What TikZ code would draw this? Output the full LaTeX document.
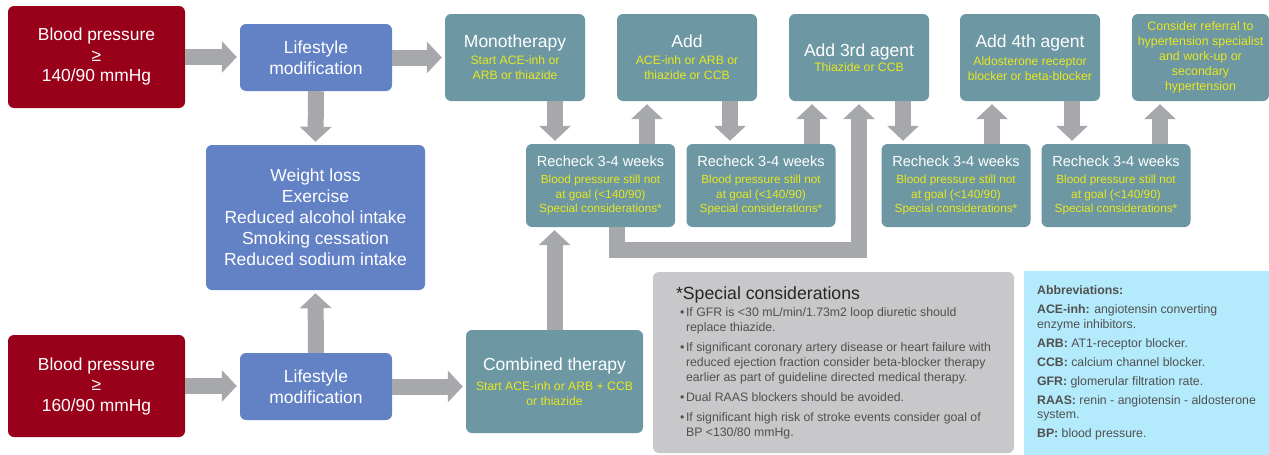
\documentclass[tikz,border=0pt]{standalone}
\usepackage{fontspec}
\setmainfont{Liberation Sans}
\usepackage{xcolor}
\usepackage{tikz}
\usetikzlibrary{positioning,arrows.meta}

\definecolor{bpred}{RGB}{153,0,25}
\definecolor{lifeblue}{RGB}{99,129,197}
\definecolor{drugteal}{RGB}{108,151,163}
\definecolor{noteyellow}{RGB}{232,232,30}
\definecolor{arrowgray}{RGB}{167,168,172}
\definecolor{notegray}{RGB}{200,200,202}
\definecolor{notetext}{RGB}{80,80,80}
\definecolor{abbrevblue}{RGB}{180,235,252}

\newcommand\titletxt{\fontsize{17.5}{21}\selectfont\color{white}}
\newcommand\checktxt{\fontsize{14.6}{18}\selectfont\color{white}}

\begin{document}
\begin{tikzpicture}[x=1pt, y=-1pt,
  stage/.style={fill=#1, rounded corners=6pt, align=center, inner sep=2pt, text=white},
  bpbox/.style={stage=bpred, minimum width=177pt, minimum height=102pt, font=\fontsize{17.4}{20.5}\selectfont},
  lifebox/.style={stage=lifeblue, minimum width=152pt, minimum height=67pt, font=\fontsize{17.5}{21}\selectfont},
  drugbox/.style={stage=drugteal, minimum width=140pt, minimum height=87pt, text=noteyellow, font=\fontsize{12.2}{15}\selectfont},
  checkbox/.style={stage=drugteal, minimum width=149pt, minimum height=83pt, text=noteyellow, font=\fontsize{11.8}{14.5}\selectfont},
  notebox/.style={fill=notegray, rounded corners=6pt, minimum width=361pt, minimum height=181pt, align=left, text=notetext, font=\fontsize{12.3}{15}\selectfont},
  abbrevbox/.style={fill=abbrevblue, minimum width=245pt, minimum height=184pt, align=left, text=notetext, font=\fontsize{12.3}{14.5}\selectfont},
  blockarrow/.style={draw=arrowgray, line width=16pt, -{Triangle[width=31pt,length=15pt]}, shorten >=3pt}
]
  \path[use as bounding box, fill=white] (0,0) rectangle (1269,455);

  \node[bpbox] (bpa) at (96.5,57) {Blood pressure\\≥\\140/90 mmHg};
  \node[lifebox] (lsa) at (316,57.5) {Lifestyle\\modification};
  \node[lifebox, minimum width=219pt, minimum height=145pt] (habits) at (315.5,217.5) {Weight loss\\Exercise\\Reduced alcohol intake\\Smoking cessation\\Reduced sodium intake};
  \node[bpbox] (bpb) at (96.5,386) {Blood pressure\\≥\\160/90 mmHg};
  \node[lifebox] (lsb) at (316,386.5) {Lifestyle\\modification};

  \node[drugbox] (mono) at (515,57.5) {{\titletxt Monotherapy}\\[2pt]Start ACE-inh or\\ARB or thiazide};
  \node[drugbox] (addtwo) at (687,57.5) {{\titletxt Add}\\[2pt]ACE-inh or ARB or\\thiazide or CCB};
  \node[drugbox] (addthree) at (859,57.5) {{\titletxt Add 3rd agent}\\Thiazide or CCB};
  \node[drugbox] (addfour) at (1030,57.5) {{\titletxt Add 4th agent}\\[3pt]Aldosterone receptor\\blocker or beta-blocker};
  \node[drugbox, minimum width=137pt, font=\fontsize{12.4}{15}\selectfont] (referral) at (1200.5,57.5) {Consider referral to\\hypertension specialist\\and work-up or\\secondary\\hypertension};

  \node[checkbox] (check1) at (600.5,185.5) {{\checktxt Recheck 3-4 weeks}\\[3pt]Blood pressure still not\\at goal (<140/90)\\Special considerations*};
  \node[checkbox] (check2) at (761,185.5) {{\checktxt Recheck 3-4 weeks}\\[3pt]Blood pressure still not\\at goal (<140/90)\\Special considerations*};
  \node[checkbox] (check3) at (956,185.5) {{\checktxt Recheck 3-4 weeks}\\[3pt]Blood pressure still not\\at goal (<140/90)\\Special considerations*};
  \node[checkbox] (check4) at (1116,185.5) {{\checktxt Recheck 3-4 weeks}\\[3pt]Blood pressure still not\\at goal (<140/90)\\Special considerations*};

  \node[drugbox, minimum width=177pt, minimum height=103pt] (combined) at (554.5,381.5) {{\titletxt Combined therapy}\\[5pt]Start ACE-inh or ARB + CCB\\or thiazide};

  \node[notebox] (special) at (833.5,362.5) {{\fontsize{17.7}{20}\selectfont\color{black!85}*Special considerations}\\[2pt]
    \hspace*{4pt}\makebox[6pt][l]{•}If GFR is <30 mL/min/1.73m2 loop diuretic should\\
    \hspace*{10pt}replace thiazide.\\[5pt]
    \hspace*{4pt}\makebox[6pt][l]{•}If significant coronary artery disease or heart failure with\\
    \hspace*{10pt}reduced ejection fraction consider beta-blocker therapy\\
    \hspace*{10pt}earlier as part of guideline directed medical therapy.\\[5pt]
    \hspace*{4pt}\makebox[6pt][l]{•}Dual RAAS blockers should be avoided.\\[5pt]
    \hspace*{4pt}\makebox[6pt][l]{•}If significant high risk of stroke events consider goal of\\
    \hspace*{10pt}BP <130/80 mmHg.};
  \node[abbrevbox] (abbrev) at (1146.5,363) {\textbf{Abbreviations:}\\[4.5pt]
    \textbf{ACE-inh:} angiotensin converting\\
    enzyme inhibitors.\\[4.5pt]
    \textbf{ARB:} AT1-receptor blocker.\\[4.5pt]
    \textbf{CCB:} calcium channel blocker.\\[4.5pt]
    \textbf{GFR:} glomerular filtration rate.\\[4.5pt]
    \textbf{RAAS:} renin - angiotensin - aldosterone\\
    system.\\[4.5pt]
    \textbf{BP:} blood pressure.};

  \draw[blockarrow] (bpa.east) -- (bpa.east -| lsa.west);
  \draw[blockarrow] (lsa.east) -- (lsa.east -| mono.west);
  \draw[blockarrow] (lsa.south) -- (habits.north);
  \draw[blockarrow] (bpb.east) -- (bpb.east -| lsb.west);
  \draw[blockarrow] (lsb.north) -- (habits.south);
  \draw[blockarrow] (lsb.east) -- (lsb.east -| combined.west);
  \draw[blockarrow] (combined.north) -- (combined.north |- check1.south);

  \draw[blockarrow] ([xshift=40pt]mono.south) -- ([xshift=-45.5pt]check1.north);
  \draw[blockarrow] ([xshift=46.5pt]check1.north) -- ([xshift=-40pt]addtwo.south);
  \draw[blockarrow] ([xshift=43pt]addtwo.south) -- ([xshift=-31pt]check2.north);
  \draw[blockarrow] ([xshift=51pt]check2.north) -- ([xshift=-47pt]addthree.south);
  \draw[blockarrow] ([xshift=44pt]addthree.south) -- ([xshift=-53pt]check3.north);
  \draw[blockarrow] ([xshift=36pt]check3.north) -- ([xshift=-38pt]addfour.south);
  \draw[blockarrow] ([xshift=42pt]addfour.south) -- ([xshift=-44pt]check4.north);
  \draw[blockarrow] ([xshift=44pt]check4.north) -- ([xshift=-40.5pt]referral.south);
  \draw[blockarrow] ([xshift=16.5pt]check1.south) -- ++(0,23) -| (addthree.south);
\end{tikzpicture}
\end{document}
